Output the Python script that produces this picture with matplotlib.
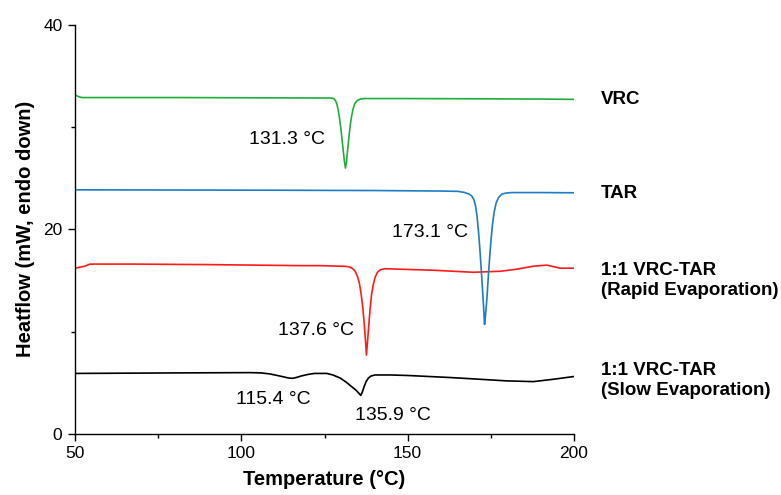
import matplotlib.pyplot as plt
from matplotlib.ticker import MultipleLocator

plt.rcParams['font.family'] = ['Liberation Sans', 'DejaVu Sans']

# DSC traces (temperature in °C, heat flow in mW, offset for stacking)
vrc_t = [50, 51, 52, 60, 80, 100, 120, 127.0, 127.8, 128.3, 128.7, 129.1, 129.5, 129.9,
         130.3, 130.7, 131.0, 131.3, 131.6, 131.9, 132.3, 132.7, 133.1, 133.6, 134.1,
         134.8, 135.7, 137.0, 150, 170, 190, 200]
vrc_hf = [33.15, 33.0, 32.9, 32.9, 32.9, 32.88, 32.86, 32.85, 32.8, 32.6, 32.3, 31.7, 30.9, 29.9,
          28.7, 27.5, 26.6, 26.0, 26.6, 27.6, 28.9, 30.1, 31.0, 31.8, 32.3,
          32.6, 32.75, 32.8, 32.8, 32.78, 32.75, 32.72]

tar_t = [50, 80, 110, 140, 160, 165, 167, 168.5, 169.3, 169.9, 170.4, 170.8, 171.2, 171.6,
         172.0, 172.4, 172.8, 173.1, 173.4, 173.8, 174.2, 174.6, 175.0, 175.5, 176.0,
         176.6, 177.3, 178.3, 179.5, 181.3, 190, 200]
tar_hf = [23.87, 23.85, 23.83, 23.8, 23.75, 23.72, 23.62, 23.45, 23.25, 22.9, 22.3, 21.4, 20.1, 18.5,
          16.6, 14.6, 12.5, 10.7, 11.6, 13.2, 15.2, 17.1, 18.8, 20.5, 21.7,
          22.6, 23.1, 23.45, 23.55, 23.6, 23.6, 23.58]

rapid_t = [50, 53, 54.5, 67.5, 90, 117.6, 123.6, 131.5, 132.7, 133.5, 134.2, 134.9, 135.5,
           136.0, 136.5, 136.9, 137.3, 137.6, 137.9, 138.3, 138.7, 139.1, 139.6, 140.2,
           140.9, 141.8, 143.2, 147.7, 157.7, 169.7, 177.8, 182.8, 187.8, 191.8, 195.8, 200]
rapid_hf = [16.2, 16.4, 16.6, 16.6, 16.55, 16.45, 16.45, 16.38, 16.3, 16.15, 15.9, 15.4, 14.7,
            13.7, 12.4, 10.9, 9.2, 7.7, 8.9, 10.6, 12.2, 13.5, 14.5, 15.3,
            15.8, 16.05, 16.15, 16.1, 16.0, 15.8, 15.9, 16.1, 16.4, 16.5, 16.2, 16.2]

slow_t = [50, 80, 102.6, 106, 108.6, 110.5, 112.5, 114.2, 115.4, 116.5, 118, 120, 122,
          125.7, 127.5, 129.7, 131.5, 133, 134.5, 135.5, 135.9, 136.4, 136.9, 137.5, 138.2,
          139, 140.2, 144.7, 150, 162.7, 171.7, 179.8, 187.8, 193.8, 200]
slow_hf = [5.9, 5.95, 5.98, 5.95, 5.85, 5.72, 5.58, 5.45, 5.42, 5.5, 5.65, 5.8, 5.9,
           5.9, 5.75, 5.45, 5.05, 4.65, 4.25, 3.9, 3.75, 4.1, 4.6, 5.1, 5.45,
           5.65, 5.75, 5.75, 5.7, 5.5, 5.33, 5.17, 5.1, 5.33, 5.6]

names = ['VRC', 'TAR', '1:1 VRC-TAR\n(Rapid Evaporation)', '1:1 VRC-TAR\n(Slow Evaporation)']
name_y = [32.7, 23.5, 15.0, 5.2]

# peak temperatures and where their labels sit
peaks = ['131.3 °C', '173.1 °C', '137.6 °C', '115.4 °C', '135.9 °C']
peak_xy = [(113.7, 28.8), (156.7, 19.65), (122.4, 10.15), (109.5, 3.3), (145.6, 1.8)]

fig = plt.figure(figsize=(7.81, 4.95), dpi=100)
ax = fig.add_axes([0.096, 0.1238, 0.639, 0.8257])

ax.plot(slow_t, slow_hf, color='black', lw=1.2)
ax.plot(rapid_t, rapid_hf, color='#ff1a1a', lw=1.2)
ax.plot(tar_t, tar_hf, color='#1c7cc4', lw=1.2)
ax.plot(vrc_t, vrc_hf, color='#1fae3c', lw=1.2)

for txt, (px, py) in zip(peaks, peak_xy):
    ax.text(px, py, txt, fontsize=14, ha='center', va='center')

for txt, ny in zip(names, name_y):
    ax.text(208.1, ny, txt, fontsize=13.5, fontweight='bold', ha='left', va='center',
            linespacing=1.2, clip_on=False)

ax.set_xlim(50, 200)
ax.set_ylim(0, 40)
ax.xaxis.set_major_locator(MultipleLocator(50))
ax.xaxis.set_minor_locator(MultipleLocator(25))
ax.yaxis.set_major_locator(MultipleLocator(20))
ax.yaxis.set_minor_locator(MultipleLocator(10))
ax.spines['top'].set_visible(False)
ax.spines['right'].set_visible(False)
for s in ('left', 'bottom'):
    ax.spines[s].set_linewidth(1.0)
ax.tick_params(which='major', direction='out', length=5, width=1.0, labelsize=12.5, pad=4)
ax.tick_params(which='minor', direction='out', length=3, width=1.0)

ax.set_xlabel('Temperature (°C)', fontsize=14.5, fontweight='bold', labelpad=6)
ax.set_ylabel('Heatflow (mW, endo down)', fontsize=14.5, fontweight='bold', labelpad=6)

fig.savefig('out.png', dpi=100)
